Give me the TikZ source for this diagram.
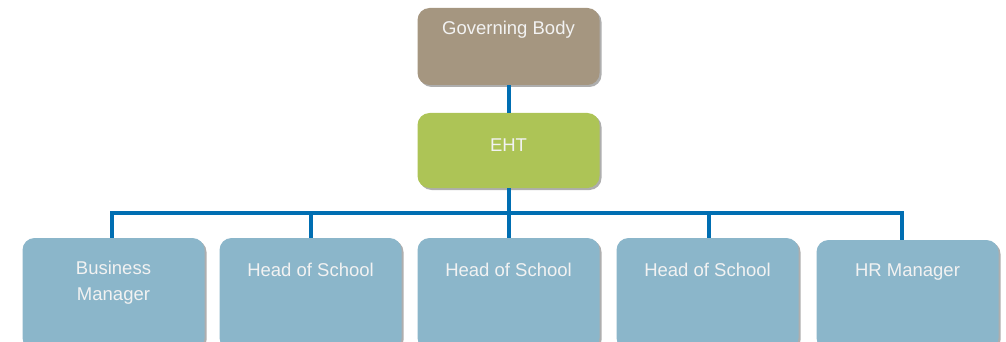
\documentclass[tikz,border=0pt]{standalone}
\usepackage{fontspec}
\setmainfont{Liberation Sans}
\definecolor{bodybrown}{RGB}{165, 150, 128}
\definecolor{ehtgreen}{RGB}{173, 196, 86}
\definecolor{staffblue}{RGB}{139, 182, 202}
\definecolor{linkblue}{RGB}{0, 110, 178}
\usetikzlibrary{shadows, positioning}

\begin{document}
\begin{tikzpicture}[x=1pt, y=-1pt,
  orgbox/.style={rounded corners=12pt, minimum width=182pt, inner sep=0pt,
    drop shadow={shadow xshift=2pt, shadow yshift=-2pt, fill=black!45, opacity=0.7}},
  boxtext/.style={text=white!95!black, align=center, font=\fontsize{18.5}{26}\selectfont},
  link/.style={draw=linkblue, line width=4pt}
]
  \useasboundingbox (0,0) rectangle (1006,342);
  \clip (0,0) rectangle (1006,342);

  % top of the chart
  \node[orgbox, fill=bodybrown, minimum height=77pt] (gb) at (508.5,46.5) {};
  \node[orgbox, fill=ehtgreen, minimum height=75pt] (eht) at (508.5,150.5) {};
  \node[boxtext] (gbtext) at ([yshift=-22pt]gb.north) {Governing Body};
  \node[boxtext] (ehttext) at ([yshift=-32pt]eht.north) {EHT};

  % staff row
  \node[orgbox, fill=staffblue, minimum height=112pt] (bm) at (113.5,294) {};
  \node[orgbox, fill=staffblue, minimum height=112pt] (hosa) at (310.5,294) {};
  \node[orgbox, fill=staffblue, minimum height=112pt] (hosb) at (508.5,294) {};
  \node[orgbox, fill=staffblue, minimum height=112pt] (hosc) at (707.5,294) {};
  \node[orgbox, fill=staffblue, minimum height=110pt] (hr) at (907.5,295) {};
  \node[boxtext] (bmtext) at ([yshift=-45pt]bm.north) {Business\\Manager};
  \node[boxtext] (hosatext) at ([yshift=-32pt]hosa.north) {Head of School};
  \node[boxtext] (hosbtext) at ([yshift=-32pt]hosb.north) {Head of School};
  \node[boxtext] (hosctext) at ([yshift=-32pt]hosc.north) {Head of School};
  \node[boxtext] (hrtext) at ([yshift=-32pt]hr.north) {HR Manager};

  % connectors
  \coordinate (bar) at ([yshift=-25pt]eht.south);
  \draw[link] (gb.south) -- (eht.north);
  \draw[link] (eht.south) -- (bar);
  \draw[link] (bar) -| ([xshift=-1.5pt]bm.north);
  \draw[link] (bar) -| (hosa.north);
  \draw[link] (bar) -- (hosb.north);
  \draw[link] (bar) -| ([xshift=1.5pt]hosc.north);
  \draw[link] (bar) -| ([xshift=-5.5pt]hr.north);
\end{tikzpicture}
\end{document}
